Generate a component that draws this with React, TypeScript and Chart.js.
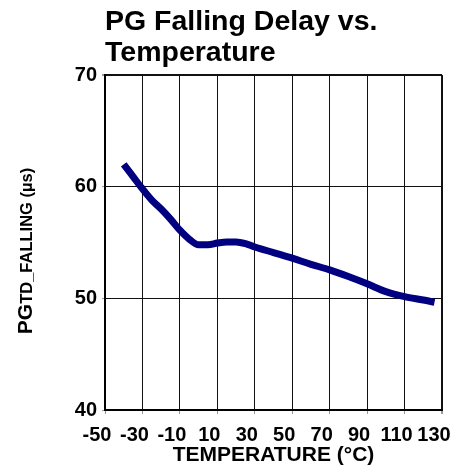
import React, { useEffect, useRef } from 'react';
import { Chart, registerables } from 'chart.js';

Chart.register(...registerables);

const temps = [-40, -35, -30, -25, -20, -15, -10, -5, 0, 5, 10, 15, 20, 25, 30, 40, 50, 60, 70, 80, 90, 100, 110, 120, 126];
const delays = [62.0, 60.9, 59.8, 58.8, 58.0, 57.1, 56.1, 55.3, 54.8, 54.8, 54.95, 55.05, 55.05, 54.9, 54.6, 54.1, 53.6, 53.05, 52.55, 51.95, 51.3, 50.6, 50.15, 49.85, 49.65];
const xTicks = [-50, -30, -10, 10, 30, 50, 70, 90, 110, 130];
const yTicks = [40, 50, 60, 70];
const titleLines = ['PG Falling Delay vs.', 'Temperature'];
const xTitle = 'TEMPERATURE (°C)';
const yTitleParts = [
  { text: 'PG', size: 21 },
  { text: 'TD_FALLING (µs)', size: 16.5 },
];

const FONT = '"Liberation Sans", Arial, Helvetica, sans-serif';

const yTitlePlugin = {
  id: 'yTitle',
  afterDraw(chart: any) {
    const ctx = chart.ctx;
    ctx.save();
    ctx.fillStyle = '#000';
    ctx.textBaseline = 'alphabetic';
    ctx.textAlign = 'left';
    let total = 0;
    const widths = yTitleParts.map((p) => {
      ctx.font = `bold ${p.size}px ${FONT}`;
      const w = ctx.measureText(p.text).width;
      total += w;
      return w;
    });
    ctx.translate(32, 251);
    ctx.rotate(-Math.PI / 2);
    let x = -total / 2;
    yTitleParts.forEach((p, i) => {
      ctx.font = `bold ${p.size}px ${FONT}`;
      ctx.fillText(p.text, x, 0);
      x += widths[i];
    });
    ctx.restore();
  },
};

export default function App() {
  const ref = useRef<HTMLCanvasElement>(null);
  useEffect(() => {
    if (!ref.current) return;
    const lastWidth = (n: number) => (c: any) => (c.index === n - 1 ? 2 : 1);
    const chart = new Chart(ref.current, {
      type: 'line',
      data: {
        datasets: [
          {
            data: temps.map((t, i) => ({ x: t, y: delays[i] })),
            borderColor: '#000080',
            backgroundColor: '#000080',
            borderWidth: 7,
            pointRadius: 0,
            cubicInterpolationMode: 'monotone',
            fill: false,
          },
        ],
      },
      options: {
        animation: false,
        responsive: false,
        devicePixelRatio: 1,
        layout: { padding: { left: 0, right: 10, top: 0, bottom: 0 } },
        plugins: {
          legend: { display: false },
          tooltip: { enabled: false },
          title: {
            display: true,
            text: titleLines,
            align: 'start',
            fullSize: false,
            color: '#000',
            font: { family: FONT, size: 28.5, weight: 'bold', lineHeight: 1.09 },
            padding: { top: 6.5, bottom: 6.4 },
          },
        },
        scales: {
          x: {
            type: 'linear',
            min: -50,
            max: 130,
            afterBuildTicks: (s: any) => {
              s.ticks = xTicks.map((v) => ({ value: v }));
            },
            afterFit: (s: any) => {
              s.height = 64;
              s.paddingLeft = 0;
              s.paddingRight = 0;
            },
            ticks: {
              color: '#000',
              font: { family: FONT, size: 20, weight: 'bold' },
              padding: 9,
              labelOffset: -8,
              maxRotation: 0,
              autoSkip: false,
            },
            grid: { color: '#111', tickColor: '#999', tickLength: 4, lineWidth: lastWidth(xTicks.length) },
            border: { color: '#000', width: 2 },
            title: {
              display: true,
              text: xTitle,
              color: '#000',
              font: { family: FONT, size: 21, weight: 'bold', lineHeight: 1.2 },
              padding: { top: 0, bottom: 6.5 },
            },
          },
          y: {
            type: 'linear',
            min: 40,
            max: 70,
            afterBuildTicks: (s: any) => {
              s.ticks = yTicks.map((v) => ({ value: v }));
            },
            afterFit: (s: any) => {
              s.width = 105;
              s.paddingTop = 0;
              s.paddingBottom = 0;
            },
            ticks: {
              color: '#000',
              font: { family: FONT, size: 20, weight: 'bold' },
              padding: 5,
            },
            grid: { color: '#111', tickColor: '#999', tickLength: 3, lineWidth: lastWidth(yTicks.length) },
            border: { color: '#000', width: 2 },
          },
        },
      },
      plugins: [yTitlePlugin],
    } as any);
    return () => chart.destroy();
  }, []);
  return (
    <div style={{ position: 'fixed', left: 0, top: 0, width: 452, height: 474, background: '#fff' }}>
      <canvas ref={ref} width={452} height={474} style={{ display: 'block', width: 452, height: 474 }} />
    </div>
  );
}
